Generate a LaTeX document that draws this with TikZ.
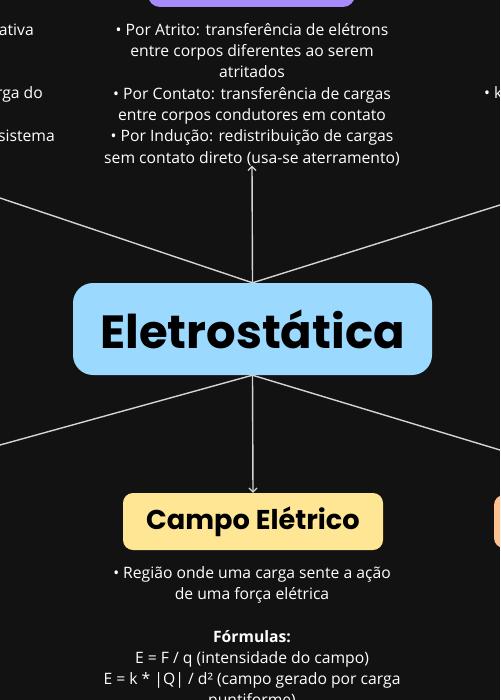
\documentclass[tikz,border=0pt]{standalone}
\usepackage{fontspec}
\setmainfont{Open Sans}
\newfontfamily\titlefont{Poppins}
\usetikzlibrary{arrows.meta}
\definecolor{bgc}{HTML}{121212}
\definecolor{linec}{HTML}{D4D4D4}
\definecolor{centerc}{HTML}{9BD9FE}
\definecolor{purplec}{HTML}{A78BFA}
\definecolor{yellowc}{HTML}{FEE694}
\definecolor{peachc}{HTML}{FFC18F}
\begin{document}
\begin{tikzpicture}[x=1pt,y=-1pt,
  body/.style={text=white, align=center, inner sep=0pt, font=\fontsize{15.7}{21.3}\selectfont},
  frag/.style={text=white, inner sep=0pt, font=\fontsize{15.7}{21.3}\selectfont},
  conn/.style={draw=linec, line width=1.4pt},
  arr/.style={conn, -{Straight Barb[length=4pt,width=8pt,line width=1.2pt]}},
  mainbox/.style={fill=centerc, rounded corners=20pt, minimum width=359pt, minimum height=92pt, inner sep=0pt, font=\titlefont\bfseries\fontsize{46.5}{50}\selectfont, text=black},
  subbox/.style={rounded corners=10pt, minimum height=57pt, inner sep=0pt, font=\titlefont\bfseries\fontsize{27.2}{30}\selectfont, text=black}
]
\fill[bgc] (0,0) rectangle (500,700);
\useasboundingbox (0,0) rectangle (500,700);
\clip (0,0) rectangle (500,700);

% partially visible nodes
\fill[purplec, rounded corners=12pt] (148,-40) rectangle (355,7);
\fill[peachc, rounded corners=10pt] (494,495) rectangle (570,548);

% center
\node[mainbox] (c) at (252.5,329) {Eletrostática};

% top text
\node[body, anchor=north] (tt) at (252,23) {%
• Por Atrito: transferência de elétrons\\
entre corpos diferentes ao serem\\
atritados\\
• Por Contato: transferência de cargas\\
entre corpos condutores em contato\\
• Por Indução: redistribuição de cargas\\
sem contato direto (usa-se aterramento)};

% fragments
\node[frag, anchor=base east] (f1) at (34,35.5) {ativa};
\node[frag, anchor=base east] (f2) at (43,98.5) {rga do};
\node[frag, anchor=base east] (f3) at (55,141.5) {sistema};
\node[frag, anchor=base west] (f4) at (484,98.5) {• k};

% campo
\node[subbox, fill=yellowc, minimum width=260pt] (ce) at (253,521.5) {Campo Elétrico};

\node[body, anchor=north] (bt) at (252,566) {%
• Região onde uma carga sente a ação\\
de uma força elétrica\\[21.3pt]
\textbf{Fórmulas:}\\
E = F / q (intensidade do campo)\\
E = k * |Q| / d² (campo gerado por carga\\
puntiforme)};

% connectors
\coordinate (ul) at (0,198);
\coordinate (ur) at (500,205);
\coordinate (ll) at (0,445);
\coordinate (lr) at (500,450);
\draw[conn] (c.north) -- (ul);
\draw[conn] (c.north) -- (ur);
\draw[conn] (c.south) -- (ll);
\draw[conn] (c.south) -- (lr);
\draw[arr] (c.north) -- (tt.south);
\draw[arr] (c.south) -- (ce.north);
\end{tikzpicture}
\end{document}
